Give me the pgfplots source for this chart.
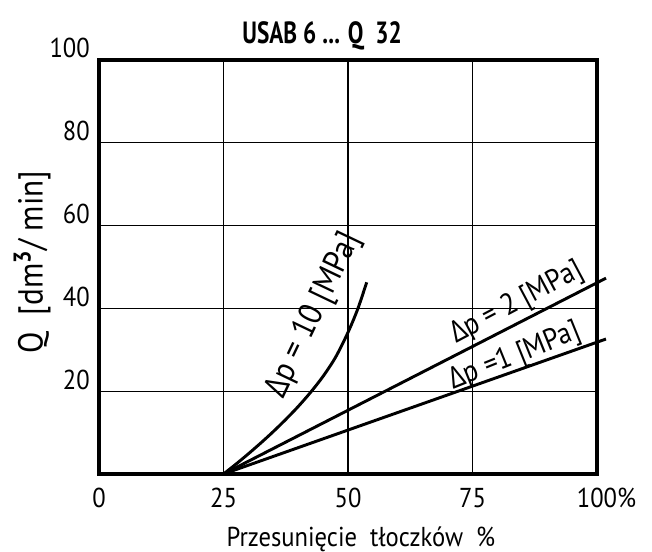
\documentclass[border=0pt]{standalone}
\usepackage{fontspec}
\setmainfont{PT Sans}[FakeStretch=0.9]
\newfontfamily\titlefont{PT Sans}[FakeStretch=0.76]
\newfontfamily\grk{Open Sans}[FakeStretch=0.9]
\usepackage{pgfplots}
\pgfplotsset{compat=1.18}
\newcommand{\dlt}{{\grk Δ}}
\newcommand{\lblfont}{\fontsize{20.5}{22}\selectfont}
\newcommand{\curvefont}{\fontsize{22.5}{24}\selectfont}

\begin{document}
\begin{tikzpicture}
\begin{axis}[
    at={(0,0)}, anchor=south west,
    scale only axis,
    width=373.5pt, height=310.5pt,
    xmin=0, xmax=100, ymin=0, ymax=100,
    xtick={0,25,50,75,100},
    ytick={20,40,60,80,100},
    xticklabels={0,25,50,75,100\rlap{\%}},
    yticklabels={20,40,60,80,100},
    major tick length=0pt,
    grid=major,
    major grid style={black, line width=0.9pt},
    axis line style={line width=2.3pt},
    tick label style={font=\lblfont, inner sep=0pt},
    xticklabel style={anchor=base, yshift=-25.5pt},
    yticklabel style={anchor=base east, xshift=-6.75pt, yshift=1.5pt},
    clip=false,
  ]
  % dp = 10 MPa
  \addplot[smooth, line width=2.2pt] coordinates {
    (25,0) (27.5,2.38) (30,4.88) (32.5,7.5) (35,10.25) (37.5,13.18)
    (40,16.3) (42.5,19.75) (45,23.6) (47.5,28.2) (50,34.2) (52,40.0) (53.75,46.3)
  };
  % dp = 2 MPa
  \addplot[line width=2.2pt] coordinates {(25,0) (101.8,47.3)};
  % dp = 1 MPa
  \addplot[line width=2.2pt] coordinates {(25,0) (101.8,32.6)};

  \node[rotate=64.5, font=\fontsize{25}{26}\selectfont] at (axis cs:43.2,38.3) {\dlt p = 10 [MPa]};
  \node[rotate=28, font=\curvefont] at (axis cs:83.9,41.2) {\dlt p = 2 [MPa]};
  \node[rotate=22, font=\curvefont] at (axis cs:83.5,28.3) {\dlt p =1 [MPa]};

  \node[anchor=base, font=\titlefont\bfseries\fontsize{23}{24}\selectfont] at (axis cs:44.8,104.1) {USAB 6 ... Q\ \ 32};
  \node[anchor=base, font=\lblfont] at (axis cs:52.6,-17.5) {Przesunięcie\ \ tłoczków\ \ \%};
  \node[rotate=90, font=\fontsize{26}{28}\selectfont] at (axis cs:-13.45,51.2) {Q\ \ [dm\textsuperscript{\textbf{3}}/ min]};
\end{axis}
\pgfresetboundingbox
\path[use as bounding box] (-74.25pt,-58.5pt) rectangle (414.75pt,355.5pt);
\end{tikzpicture}
\end{document}
